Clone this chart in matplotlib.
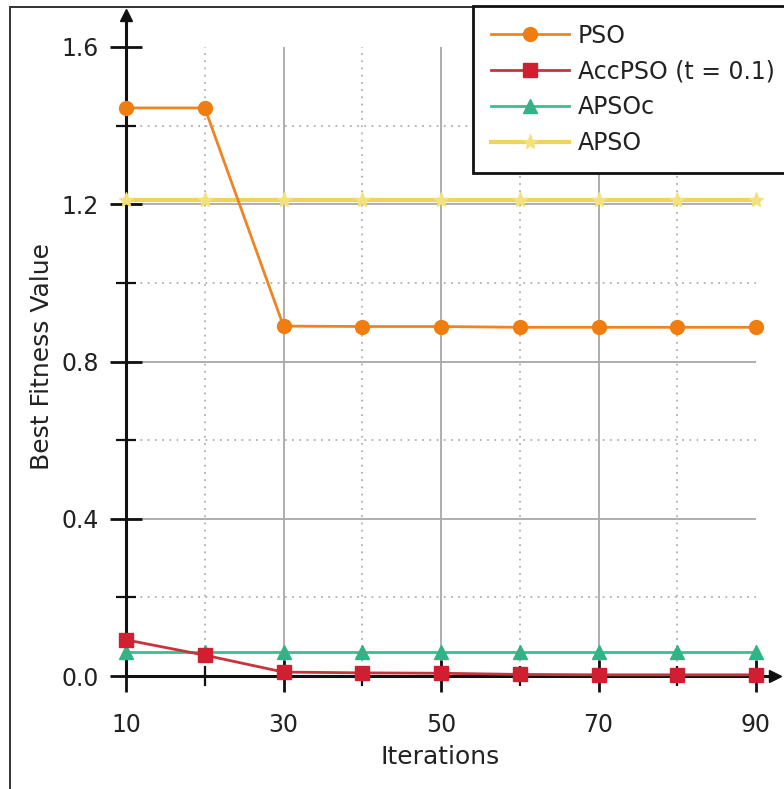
import numpy as np
import matplotlib
matplotlib.use("Agg")
import matplotlib.pyplot as plt
from matplotlib.patches import Rectangle

iterations = [10, 20, 30, 40, 50, 60, 70, 80, 90]
pso = [1.445, 1.445, 0.89, 0.889, 0.889, 0.887, 0.887, 0.887, 0.887]
accpso = [0.092, 0.053, 0.010, 0.008, 0.007, 0.004, 0.003, 0.003, 0.003]
apsoc = [0.061, 0.061, 0.061, 0.061, 0.061, 0.061, 0.061, 0.061, 0.061]
apso = [1.21, 1.21, 1.21, 1.21, 1.21, 1.21, 1.21, 1.21, 1.21]

major_x = [10, 30, 50, 70, 90]
minor_x = [20, 40, 60, 80]
major_y = [0.0, 0.4, 0.8, 1.2, 1.6]
minor_y = [0.2, 0.6, 1.0, 1.4]

plt.rcParams['font.family'] = ['DejaVu Sans']
W, H = 784, 789
fig = plt.figure(figsize=(W / 100, H / 100), dpi=100)

# plot area in pixels: x 126..756 (10..90), y 676..47 (0..1.6)
x0, y0, x1, y1 = 126, 676, 756, 47
ax = fig.add_axes([x0 / W, (H - y0) / H, (x1 - x0) / W, (y0 - y1) / H])
ax.set_xlim(10, 90)
ax.set_ylim(0, 1.6)

ax.set_xticks(major_x)
ax.set_xticks(minor_x, minor=True)
ax.set_yticks(major_y)
ax.set_yticks(minor_y, minor=True)
ax.set_yticklabels(["0.0", "0.4", "0.8", "1.2", "1.6"])

# grid: solid for majors, dotted for minors (none on the borders)
for v in major_x[1:-1]:
    ax.axvline(v, color='#a8a8a8', lw=1.3, zorder=1)
for v in minor_x:
    ax.axvline(v, color='#b0b0b0', lw=1.3, ls=(0, (1, 3)), zorder=1)
for v in major_y[1:-1]:
    ax.axhline(v, color='#a8a8a8', lw=1.3, zorder=1)
for v in minor_y:
    ax.axhline(v, color='#b0b0b0', lw=1.3, ls=(0, (1, 3)), zorder=1)

for s in ax.spines.values():
    s.set_visible(False)

# axis lines with arrows, extending past the plot area
ext_x = (775 - x0) / (x1 - x0)
ext_y = (y0 - 15) / (y0 - y1)
ax.plot([0, ext_x], [0, 0], color='#111111', lw=2.2, transform=ax.transAxes, clip_on=False, zorder=2)
ax.plot([0, 0], [0, ext_y], color='#111111', lw=2.2, transform=ax.transAxes, clip_on=False, zorder=2)
ax.plot(ext_x, 0, '>', color='#111111', ms=9, transform=ax.transAxes, clip_on=False)
ax.plot(0, ext_y, '^', color='#111111', ms=9, transform=ax.transAxes, clip_on=False)

ax.tick_params(which='major', direction='inout', length=23, width=2, color='#111111',
               labelsize=17, labelcolor='#222222')
ax.tick_params(which='minor', direction='inout', length=14, width=1.6, color='#111111')
ax.tick_params(axis='x', which='major', pad=15)
ax.tick_params(axis='y', which='major', pad=8)

ax.plot(iterations, apso, color='#efd35c', lw=3, marker='*', ms=11, mfc='#f3e27a',
        mec='#f3e27a', label='APSO', zorder=3, clip_on=False)
ax.plot(iterations, pso, color='#ef8424', lw=2, marker='o', ms=10, mfc='#ef7d10',
        mec='#ef7d10', label='PSO', zorder=4, clip_on=False)
ax.plot(iterations, apsoc, color='#3cbf8c', lw=2, marker='^', ms=10, mfc='#2fb585',
        mec='#2fb585', label='APSOc', zorder=4, clip_on=False)
ax.plot(iterations, accpso, color='#c8343e', lw=2, marker='s', ms=9.5, mfc='#d01f30',
        mec='#d01f30', label='AccPSO (t = 0.1)', zorder=5, clip_on=False)

ax.set_xlabel('Iterations', fontsize=18, color='#222222', va='center')
ax.xaxis.set_label_coords((440 - x0) / (x1 - x0), (y0 - 757) / (y0 - y1))
ax.set_ylabel('Best Fitness Value', fontsize=18, color='#222222', va='center')
ax.yaxis.set_label_coords((42 - x0) / (x1 - x0), (y0 - 357) / (y0 - y1))

h, l = ax.get_legend_handles_labels()
order = [1, 3, 2, 0]
leg = fig.legend([h[i] for i in order], [l[i] for i in order],
                 loc='upper left', bbox_to_anchor=(473 / W, 1 - 6 / H),
                 fontsize=17, frameon=True, fancybox=False, handlelength=3.3,
                 handletextpad=0.38, labelspacing=0.5, borderpad=0.75, borderaxespad=0)
leg.get_frame().set_edgecolor('#111111')
leg.get_frame().set_linewidth(2)
leg.get_frame().set_alpha(1)
for t in leg.get_texts():
    t.set_color('#222222')

# thin border around the whole picture
fig.patches.append(Rectangle((10 / W, -0.1), 1.2, (H - 7) / H + 0.1, transform=fig.transFigure,
                             fill=False, ec='#333333', lw=1.4, zorder=0))

fig.savefig('out.png', dpi=100)
